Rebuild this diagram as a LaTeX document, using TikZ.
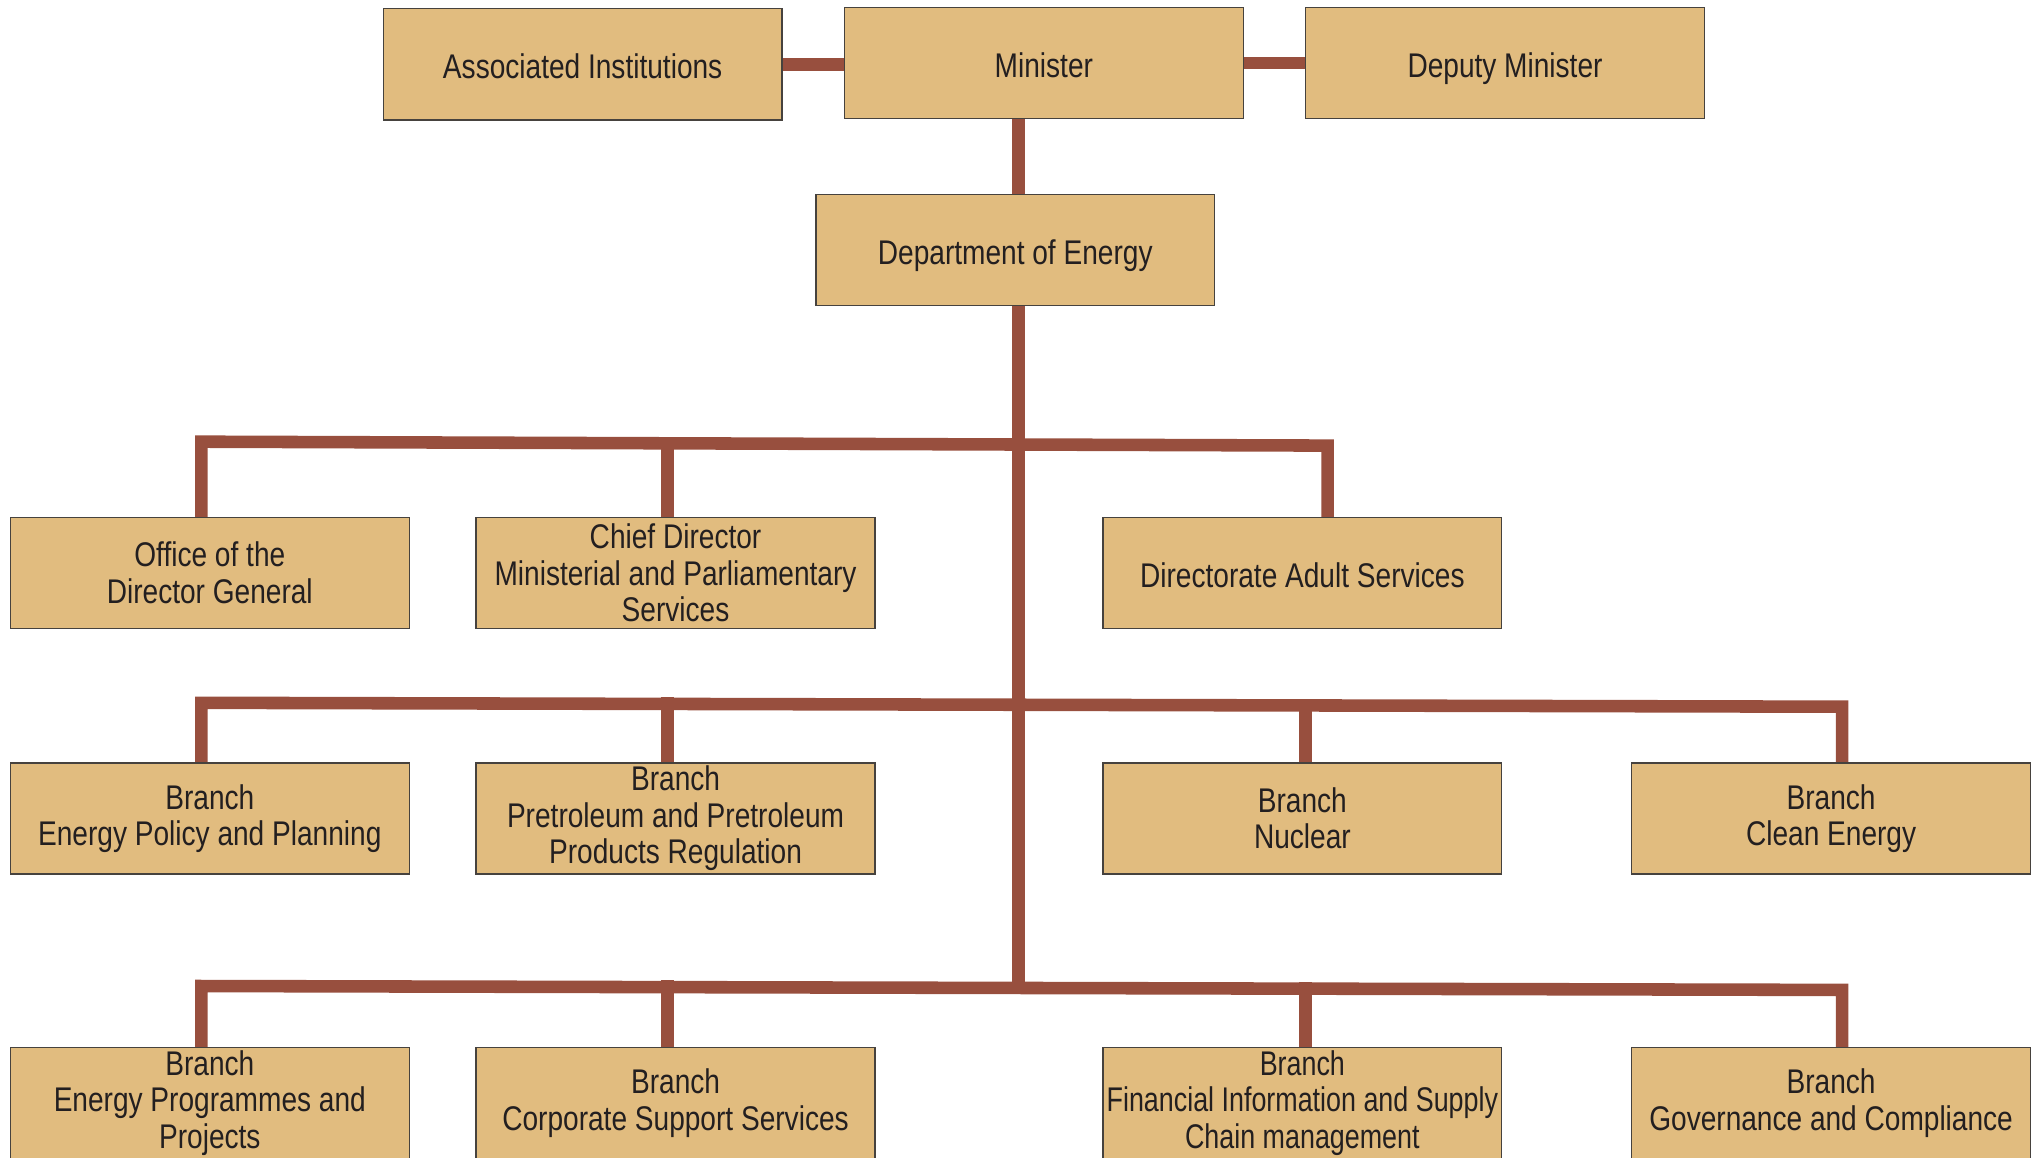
\documentclass[tikz,border=0pt]{standalone}
\usepackage{fontspec}
\setmainfont{Liberation Sans}[FakeStretch=0.82]
\newfontfamily\narrowfont{Liberation Sans}[FakeStretch=0.785]
\usetikzlibrary{backgrounds}
\definecolor{boxfill}{RGB}{225,188,127}
\definecolor{conncol}{RGB}{152,79,62}
\definecolor{txtcol}{RGB}{35,31,32}
\definecolor{edgecol}{RGB}{70,66,62}
\begin{document}
\begin{tikzpicture}[x=0.02cm,y=-0.02cm,
  orgbox/.style={draw=edgecol, line width=0.6pt, fill=boxfill, minimum width=6.14cm,
    minimum height=1.71cm, inner sep=0pt, align=center, text=txtcol,
    font=\fontsize{15}{16}\selectfont},
  oneline/.style={text height=13.4pt, text depth=1pt},
  conn/.style={draw=conncol, line width=5.5pt, line cap=rect, line join=miter}]
\useasboundingbox (0,0) rectangle (1568,891);
\begin{scope}
\clip (0,0) rectangle (1568,891);
\node[orgbox,oneline] (assoc) at (448.5,49.5) {Associated Institutions};
\node[orgbox,oneline] (minister) at (803.5,48.5) {Minister};
\node[orgbox,oneline] (deputy) at (1158.5,48.5) {Deputy Minister};
\node[orgbox,oneline] (doe) at (781.5,192.5) {Department of Energy};
\node[orgbox] (office) at (161.5,441) {Office of the\\Director General};
\node[orgbox] (chief) at (520,441) {Chief Director\\Ministerial and Parliamentary\\Services};
\node[orgbox,oneline] (dir) at (1002.5,441) {Directorate Adult Services};
\node[orgbox] (epp) at (161.5,630) {Branch\\Energy Policy and Planning};
\node[orgbox] (pet) at (520,630) {Branch\\Pretroleum and Pretroleum\\Products Regulation};
\node[orgbox] (nuc) at (1002.5,630) {Branch\\Nuclear};
\node[orgbox] (clean) at (1409.5,630) {Branch\\Clean Energy};
\node[orgbox] (prog) at (161.5,849) {Branch\\Energy Programmes and\\Projects};
\node[orgbox] (corp) at (520,849) {Branch\\Corporate Support Services};
\node[orgbox,font=\fontsize{15}{16}\selectfont\narrowfont] (fin) at (1002.5,849) {Branch\\Financial Information and Supply\\Chain management};
\node[orgbox] (gov) at (1409.5,849) {Branch\\Governance and Compliance};
\coordinate (tx) at (784,0);
\coordinate (b1a) at (155,340);
\coordinate (b1b) at (514,341);
\coordinate (b1c) at (1022,343);
\coordinate (b2a) at (155,541);
\coordinate (b2b) at (514,541.5);
\coordinate (b2c) at (1005,543);
\coordinate (b2d) at (1418,544);
\coordinate (b3a) at (155,759);
\coordinate (b3b) at (514,759.5);
\coordinate (b3c) at (1005,761);
\coordinate (b3d) at (1418,762);
\coordinate (b3t) at (784,760);
\begin{scope}[on background layer]
\draw[conn] (assoc.east) -- (assoc.east -| minister.west);
\draw[conn] (minister.east) -- (deputy.west);
\draw[conn] (minister.south -| tx) -- (doe.north -| tx);
\draw[conn] (doe.south -| tx) -- (b3t);
\draw[conn] (office.north -| b1a) -- (b1a) -- (b1c) -- (dir.north -| b1c);
\draw[conn] (b1b) -- (chief.north -| b1b);
\draw[conn] (epp.north -| b2a) -- (b2a) -- (b2d) -- (clean.north -| b2d);
\draw[conn] (b2b) -- (pet.north -| b2b);
\draw[conn] (b2c) -- (nuc.north -| b2c);
\draw[conn] (prog.north -| b3a) -- (b3a) -- (b3d) -- (gov.north -| b3d);
\draw[conn] (b3b) -- (corp.north -| b3b);
\draw[conn] (b3c) -- (fin.north -| b3c);
\end{scope}
\end{scope}
\end{tikzpicture}
\end{document}
